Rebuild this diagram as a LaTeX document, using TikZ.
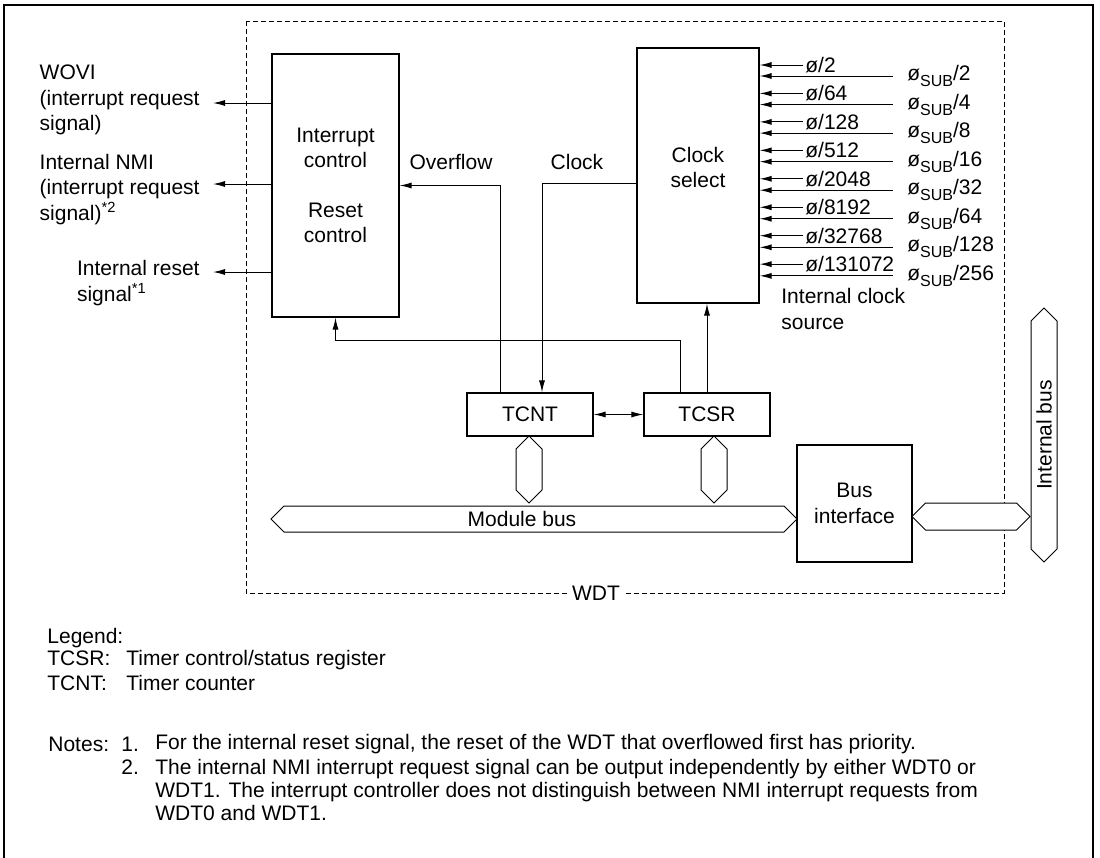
\documentclass[tikz,border=0pt]{standalone}
\usepackage{fontspec}
\setmainfont{Liberation Sans}
\usetikzlibrary{arrows.meta,shapes.symbols}

\tikzset{
  block/.style={draw, line width=0.6pt, align=center, inner sep=0pt},
  busbase/.style={draw, line width=0.5pt, signal, inner sep=0pt, fill=white},
  hbus/.style={busbase, signal to=east and west},
  vbus/.style={busbase, signal to=north and south},
  sig/.style={->, line width=0.5pt},
  outlbl/.style={align=left, inner ysep=0pt, inner xsep=6.5pt, anchor=east},
  txt/.style={align=left, inner sep=0pt, anchor=west},
}
\newcommand{\phisub}{ø\raisebox{-0.55ex}{\footnotesize SUB}}

\begin{document}
\begin{tikzpicture}[x=0.5pt, y=-0.5pt, >={Latex[length=6pt,width=3pt]},
    font=\fontsize{10.5}{12.75}\selectfont]
  \useasboundingbox (0,0) rectangle (1100,858);
  % outer frame
  \draw[line width=0.6pt] (4,858) -- (4,5) -- (1093,5) -- (1093,858);

  % WDT boundary
  \draw[line width=0.5pt, dash pattern=on 2.5pt off 1.5pt] (246,21) rectangle (1004,593);
  \node[fill=white, inner xsep=1.5pt, inner ysep=0pt] (wdt) at (596,593) {WDT};

  % blocks
  \node[block, minimum width=63.5pt, minimum height=131.5pt] (intctl) at (335.5,185.5)
    {Interrupt\\control\\[12pt]Reset\\control};
  \node[block, minimum width=61pt, minimum height=127.5pt,
    label={[align=center, yshift=4pt]center:Clock\\select}] (clksel) at (698,175.5) {};
  \node[block, minimum width=63pt, minimum height=21.5pt] (tcnt) at (530,414.5) {TCNT};
  \node[block, minimum width=63pt, minimum height=21.5pt] (tcsr) at (707,414.5) {TCSR};
  \node[block, minimum width=57.5pt, minimum height=58.5pt] (busif) at (854.5,503.5) {Bus\\interface};

  % buses
  \node[hbus, minimum width=263pt, minimum height=13pt,
    label={[xshift=-6pt]center:Module bus}] (mbus) at (534,519) {};
  \node[vbus, minimum width=13pt, minimum height=20.5pt] (tcntbus) at (529,469.5) {};
  \node[vbus, minimum width=13pt, minimum height=20.5pt] (tcsrbus) at (714,469.5) {};
  \node[hbus, minimum width=59pt, minimum height=13.5pt] (extbus) at (971,516.5) {};
  \node[hbus, rotate=90, minimum width=127pt, minimum height=13pt] (intbus) at (1044,435) {Internal bus};

  % outputs of interrupt/reset control
  \node[outlbl] (wovi) at (213,100) {WOVI\\(interrupt request\\signal)};
  \node[outlbl] (nmi) at (213,189.5) {Internal NMI\\(interrupt request\\signal)\textsuperscript{*2}};
  \node[outlbl] (rst) at (213,283) {Internal reset\\signal\textsuperscript{*1}};
  \coordinate (woviend) at ([yshift=-1.5pt]wovi.east);
  \coordinate (nmiend) at ([yshift=2.75pt]nmi.east);
  \coordinate (rstend) at ([yshift=5.5pt]rst.east);
  \draw[sig] (woviend -| intctl.west) -- (woviend);
  \draw[sig] (nmiend -| intctl.west) -- (nmiend);
  \draw[sig] (rstend -| intctl.west) -- (rstend);

  % clock sources
  \foreach \p/\s [count=\i from 0] in {2/2, 64/4, 128/8, 512/16, 2048/32, 8192/64, 32768/128, 131072/256} {
    \node[txt, inner xsep=1pt] (phi\i) at (803, 65+28.45*\i) {ø/\p};
    \node[txt, inner xsep=7pt] (sub\i) at (893, 76+28.55*\i) {\phisub/\s};
    \draw[sig] (phi\i.west) -- (phi\i.west -| clksel.east);
    \draw[sig] (sub\i.west) -- (sub\i.west -| clksel.east);
  }
  \node[txt] (icsrc) at (781,309) {Internal clock\\source};

  % counter and control register
  \node (ovf) at (451,162) {Overflow};
  \node (clk) at (577,162) {Clock};
  \draw[sig] ([xshift=-15pt]tcnt.north) |- (intctl.east);
  \draw[sig] ([yshift=-3.75pt]clksel.west) -| ([xshift=6pt]tcnt.north);
  \draw[sig] ([xshift=-13.5pt]tcsr.north) -- ++(0,-52) -| (intctl.south);
  \draw[sig] (tcsr.north) -- (tcsr.north |- clksel.south);
  \draw[<->, line width=0.5pt] (tcnt) -- (tcsr);

  % legend and notes
  \node[txt] (legend) at (47,638) {Legend:};
  \node[txt] (lgtcsr) at (47,660) {\makebox[39.5pt][l]{TCSR:}Timer control/status register};
  \node[txt] (lgtcnt) at (47,683) {\makebox[39.5pt][l]{TCNT:}Timer counter};
  \node[txt] (notes) at (48,744) {Notes:};
  \node[txt] (n1) at (121,744) {1.};
  \node[txt] (n1txt) at (155,744) {For the internal reset signal, the reset of the WDT that overflowed first has priority.};
  \node[txt] (n2) at (121,767) {2.};
  \node[txt, font=\fontsize{10.5}{11.5}\selectfont] (n2txt) at (155,790)
    {The internal NMI interrupt request signal can be output independently by either WDT0 or\\
     WDT1. The interrupt controller does not distinguish between NMI interrupt requests from\\
     WDT0 and WDT1.};
\end{tikzpicture}
\end{document}
